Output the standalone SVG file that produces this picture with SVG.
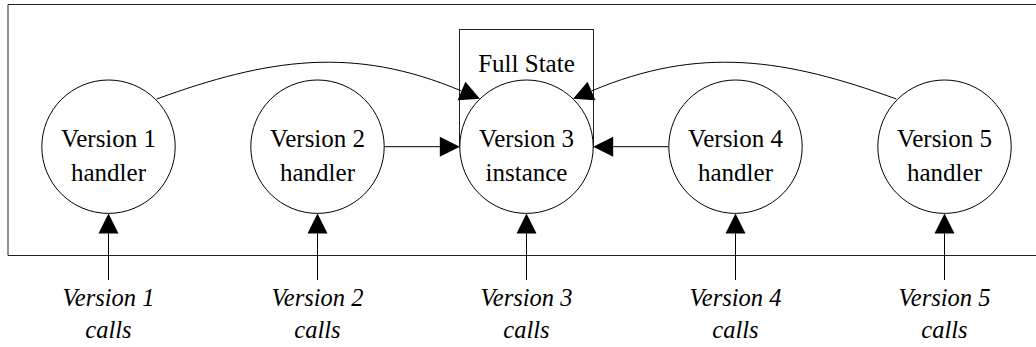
<svg xmlns="http://www.w3.org/2000/svg" width="1036" height="347" viewBox="0 0 1036 347">
<style>
.frame{fill:none;stroke:#222;stroke-width:1}
.node circle{fill:#fff;stroke:#000;stroke-width:1}
.state{fill:#fff;stroke:#222;stroke-width:1}
.edge{fill:none;stroke:#000;stroke-width:1;marker-end:url(#ah)}
text{font-family:"Liberation Serif","Times New Roman",serif;font-size:25px;text-anchor:middle;fill:#000}
.calls text{font-style:italic;font-size:24.5px}
</style>
<defs>
<marker id="ah" markerUnits="userSpaceOnUse" markerWidth="22" markerHeight="22" refX="0" refY="10" orient="auto" overflow="visible">
<path d="M0,0 L20,10 L0,20 Z" fill="#000"/>
</marker>
</defs>
<rect width="1036" height="347" fill="#fff"/>
<path class="frame" d="M1036,4.5 H8 V255.5 H1036"/>
<g id="fullstate">
<rect class="state" x="459.5" y="29.5" width="134" height="118"/>
<text x="526.5" y="72">Full State</text>
</g>
<g id="connectors">
<path class="edge" d="M156.7,99 C267.3,58.8 353.2,45.1 461.5,91"/>
<path class="edge" d="M896.3,99 C785.7,58.8 699.8,45.1 591.5,91"/>
<path class="edge" d="M384.2,146.7 H439.8"/>
<path class="edge" d="M668.8,146.7 H613.2"/>
<path class="edge" d="M108.5,280 V233.4"/>
<path class="edge" d="M317.5,280 V233.4"/>
<path class="edge" d="M526.5,280 V233.4"/>
<path class="edge" d="M735.5,280 V233.4"/>
<path class="edge" d="M944.5,280 V233.4"/>
</g>
<g id="v1" class="node"><circle cx="108.5" cy="146.7" r="66.7"/><text x="108.5" y="147">Version 1</text><text x="108.5" y="181">handler</text></g>
<g id="v2" class="node"><circle cx="317.5" cy="146.7" r="66.7"/><text x="317.5" y="147">Version 2</text><text x="317.5" y="181">handler</text></g>
<g id="v3" class="node"><circle cx="526.5" cy="146.7" r="66.7"/><text x="526.5" y="147">Version 3</text><text x="526.5" y="181">instance</text></g>
<g id="v4" class="node"><circle cx="735.5" cy="146.7" r="66.7"/><text x="735.5" y="147">Version 4</text><text x="735.5" y="181">handler</text></g>
<g id="v5" class="node"><circle cx="944.5" cy="146.7" r="66.7"/><text x="944.5" y="147">Version 5</text><text x="944.5" y="181">handler</text></g>
<g class="calls">
<g id="c1"><text x="108.5" y="305.5">Version 1</text><text x="108.5" y="338">calls</text></g>
<g id="c2"><text x="317.5" y="305.5">Version 2</text><text x="317.5" y="338">calls</text></g>
<g id="c3"><text x="526.5" y="305.5">Version 3</text><text x="526.5" y="338">calls</text></g>
<g id="c4"><text x="735.5" y="305.5">Version 4</text><text x="735.5" y="338">calls</text></g>
<g id="c5"><text x="944.5" y="305.5">Version 5</text><text x="944.5" y="338">calls</text></g>
</g>
</svg>
